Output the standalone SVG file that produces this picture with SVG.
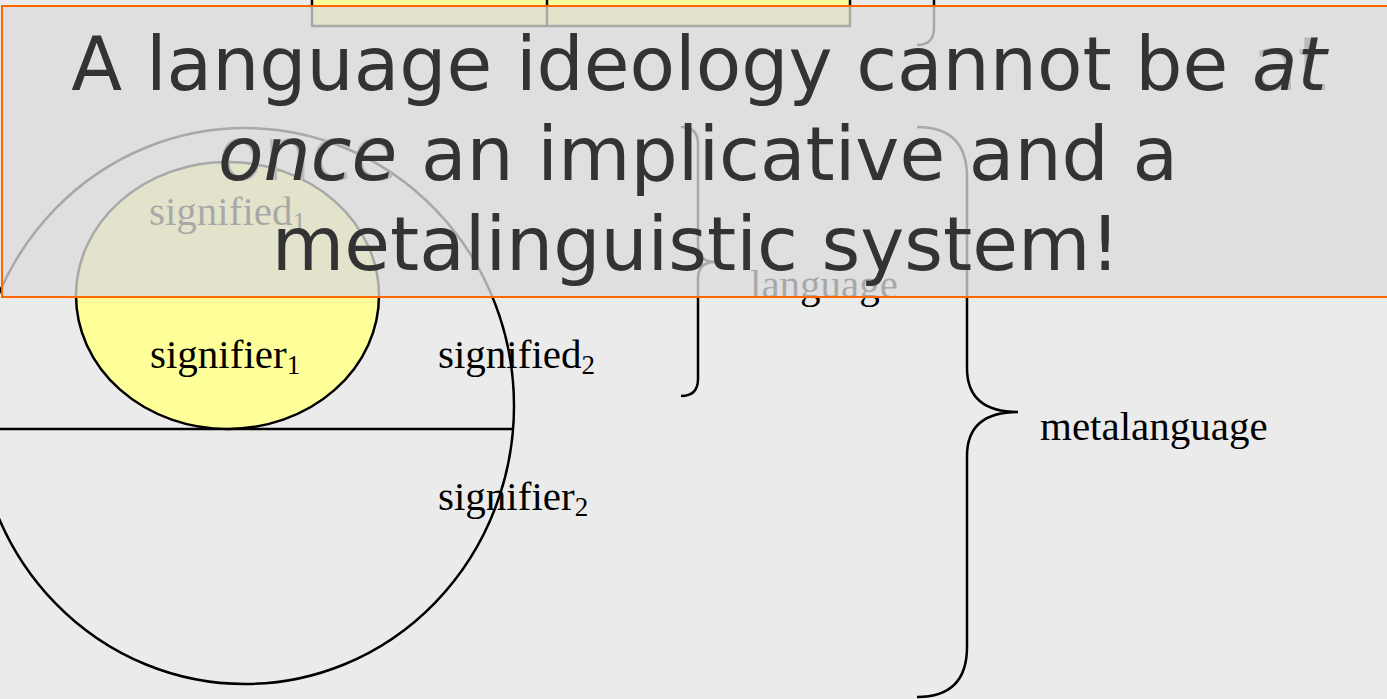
<svg xmlns="http://www.w3.org/2000/svg" width="1387" height="699" viewBox="0 0 1387 699">
  <style>
    .ink { fill: none; stroke: #000; stroke-width: 2.5; }
    .lbl { font-family: "Liberation Serif", "Times New Roman", serif; font-size: 41px; fill: #000; }
    .sub { font-size: 27px; }
    .head { font-family: "DejaVu Sans", Verdana, sans-serif; font-size: 74.4px; text-anchor: middle; }
    .head-dark { fill: #333; }
    .head-ghost { fill: none; }
    .head-ghost .em { fill: #b9b9b9; }
    .head-dark .em { font-style: italic; }
  </style>

  <!-- page background -->
  <rect x="0" y="0" width="1387" height="699" fill="#ebebeb"/>

  <!-- table cells at the top edge -->
  <g id="top-cells">
    <rect x="312" y="-10" width="538" height="36" fill="#ffff99" stroke="#000" stroke-width="2.5"/>
    <line x1="547" y1="-10" x2="547" y2="26" stroke="#000" stroke-width="2.5"/>
  </g>

  <g id="connectors">
    <!-- tail of the brace above -->
    <path class="ink" d="M934,-10 V28 Q934,45 917,45"/>
    <!-- language brace -->
    <path class="ink" d="M681,127 Q698,127 698,144 V245 Q698,262 715,262 Q698,262 698,279 V379 Q698,396 681,396"/>
    <!-- metalanguage brace -->
    <path class="ink" d="M917,127 Q967,127 967,177 V368 Q967,412 1018,412 Q967,412 967,456 V647 Q967,697 917,697"/>
  </g>

  <!-- outer sign: signified2 over signifier2 -->
  <g id="sign2">
    <ellipse class="ink" cx="245" cy="406" rx="269" ry="278"/>
    <line x1="0" y1="429" x2="514" y2="429" stroke="#000" stroke-width="2.5"/>
  </g>

  <!-- inner sign: signified1 over signifier1 -->
  <g id="sign1">
    <ellipse cx="227.5" cy="295.5" rx="151.5" ry="133.5" fill="#ffff99" stroke="#000" stroke-width="2.5"/>
  </g>

  <g id="labels">
    <text class="lbl" x="149" y="225">signified<tspan class="sub" dy="6">1</tspan></text>
    <text class="lbl" x="150" y="368">signifier<tspan class="sub" dy="6">1</tspan></text>
    <text class="lbl" x="438" y="368">signified<tspan class="sub" dy="6">2</tspan></text>
    <text class="lbl" x="438" y="510">signifier<tspan class="sub" dy="6">2</tspan></text>
    <text class="lbl" x="750" y="298">language</text>
    <text class="lbl" x="1040" y="440">metalanguage</text>
  </g>

  <!-- callout panel laid over the diagram -->
  <g id="callout">
    <rect x="2" y="6" width="1400" height="291" fill="#dbdbdb" fill-opacity="0.77" stroke="#ff6600" stroke-width="2"/>
    <!-- upright ghost of the emphasised words -->
    <text class="head head-ghost" x="699" y="90">A language ideology cannot be <tspan class="em">at</tspan></text>
    <text class="head head-ghost" x="698" y="180"><tspan class="em">once</tspan> an implicative and a</text>
    <text class="head head-dark" x="699" y="90">A language ideology cannot be <tspan class="em">at</tspan></text>
    <text class="head head-dark" x="698" y="180"><tspan class="em">once</tspan> an implicative and a</text>
    <text class="head head-dark" x="696" y="270">metalinguistic system!</text>
  </g>
</svg>
